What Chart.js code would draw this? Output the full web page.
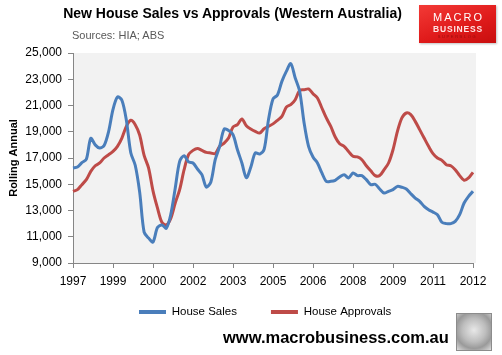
<!DOCTYPE html>
<html>
<head>
<meta charset="utf-8">
<script src="https://cdn.jsdelivr.net/npm/chart.js@4"></script>
<style>
  html, body { margin: 0; padding: 0; background: #fff; }
  #wrap { position: relative; width: 502px; height: 355px; overflow: hidden; font-family: "Liberation Sans", Arial, sans-serif; }
  #c { position: absolute; left: 0; top: 0; }
  .title { position: absolute; left: 0; top: 4px; width: 465px; text-align: center; font-weight: bold; font-size: 14px; line-height: 18px; color: #000; }
  .sub { position: absolute; left: 72px; top: 28px; font-size: 11px; line-height: 14px; color: #595959; }
  .logo { position: absolute; left: 419px; top: 5px; width: 77px; height: 38px; background: linear-gradient(160deg, #f33a36 0%, #e01b1b 55%, #c80e0e 100%); box-shadow: 1px 1px 2px rgba(0,0,0,0.25); text-align: center; color: #fff; }
  .logo .m { position: absolute; left: 0; right: 0; top: 6px; font-size: 11px; line-height: 12px; letter-spacing: 2px; padding-left: 2px; }
  .logo .b { position: absolute; left: 0; right: 0; top: 19px; font-size: 8.5px; line-height: 10px; font-weight: bold; letter-spacing: 0.8px; padding-left: 1px; color: #ffe3e3; }
  .logo .s { position: absolute; left: 0; right: 0; top: 29px; font-size: 4px; line-height: 5px; letter-spacing: 1.6px; color: #9a0c0c; }
  .foot { position: absolute; left: 223px; top: 327px; font-size: 16.5px; line-height: 20px; font-weight: bold; color: #000; white-space: nowrap; }
  .wolf { position: absolute; left: 456px; top: 313px; width: 34px; height: 36px; border: 1px solid #8c8c8c; background: radial-gradient(circle at 50% 45%, #e8e8e8 0%, #bdbdbd 45%, #9a9a9a 70%, #dcdcdc 100%); }
</style>
</head>
<body>
<div id="wrap">
  <canvas id="c" width="502" height="355"></canvas>
  <div class="title">New House Sales vs Approvals (Western Australia)</div>
  <div class="sub">Sources: HIA; ABS</div>
  <div class="logo"><div class="m">MACRO</div><div class="b">BUSINESS</div><div class="s">SUPERBLOG</div></div>
  <div class="foot">www.macrobusiness.com.au</div>
  <div class="wolf"></div>
</div>
<script>
// Categories: bi-monthly points, Sep 1997 .. Sep 2012
const months = [
 '1997-09','1997-11','1998-01','1998-03','1998-05','1998-07','1998-09','1998-11','1999-01','1999-03',
 '1999-05','1999-07','1999-09','1999-11','2000-01','2000-03','2000-05','2000-07','2000-09','2000-11',
 '2001-01','2001-03','2001-05','2001-07','2001-09','2001-11','2002-01','2002-03','2002-05','2002-07',
 '2002-09','2002-11','2003-01','2003-03','2003-05','2003-07','2003-09','2003-11','2004-01','2004-03',
 '2004-05','2004-07','2004-09','2004-11','2005-01','2005-03','2005-05','2005-07','2005-09','2005-11',
 '2006-01','2006-03','2006-05','2006-07','2006-09','2006-11','2007-01','2007-03','2007-05','2007-07',
 '2007-09','2007-11','2008-01','2008-03','2008-05','2008-07','2008-09','2008-11','2009-01','2009-03',
 '2009-05','2009-07','2009-09','2009-11','2010-01','2010-03','2010-05','2010-07','2010-09','2010-11',
 '2011-01','2011-03','2011-05','2011-07','2011-09','2011-11','2012-01','2012-03','2012-05','2012-07',
 '2012-09'
];

// Tick labels shown every 9 points (18 months)
const tickYears = ['1997','1999','2000','2002','2003','2005','2006','2008','2009','2011','2012'];

const houseSales = [
 16240,16310,16650,16900,18500,18000,17760,17950,19000,20700,
 21650,21400,19900,17400,16450,14400,11350,10900,10600,11700,
 11900,11650,12700,14700,16750,17180,16700,16620,16160,15730,
 14790,15150,16870,17890,19200,19100,18780,17630,16620,15500,
 16300,17380,17300,17650,19950,21500,21800,22840,23600,24190,
 23100,22080,19670,17890,17080,16620,15860,15220,15220,15300,
 15550,15730,15480,15860,15660,15660,15350,14970,15000,14640,
 14330,14460,14590,14840,14770,14640,14280,13950,13700,13320,
 13060,12880,12680,12100,12000,12000,12170,12680,13570,14080,
 14460
];

const houseApprovals = [
 14460,14590,14970,15350,15980,16410,16620,17000,17250,17500,
 17890,18520,19410,19870,19540,18750,17200,16250,14500,13200,
 12100,11900,12400,13570,14590,16110,17250,17580,17730,17580,
 17430,17380,17330,17890,18140,18520,19360,19540,19970,19460,
 19210,19030,18900,19230,19410,19600,19870,20170,20880,21060,
 21440,22150,22200,22260,21900,21570,20810,20050,19410,18600,
 18090,17890,17500,17130,17080,16870,16410,16020,15660,15660,
 16110,16620,17630,19030,20050,20430,20300,19790,19160,18520,
 17890,17330,17000,16820,16490,16410,16110,15660,15300,15480,
 15910
];

const seriesNames = ['House Sales', 'House Approvals'];
const seriesColors = ['#4a7ebb', '#be4b48'];

Chart.defaults.font.family = '"Liberation Sans", Arial, sans-serif';
Chart.defaults.color = '#000';

const plotBg = {
  id: 'plotBg',
  beforeDraw(chart) {
    const a = chart.chartArea, ctx = chart.ctx;
    ctx.save();
    ctx.fillStyle = '#f2f2f2';
    ctx.fillRect(a.left, a.top, a.right - a.left + 3, a.bottom - a.top);
    ctx.restore();
  }
};

const legendPlace = {
  id: 'legendPlace',
  afterLayout(chart) {
    const lg = chart.legend;
    if (!lg) return;
    const h = lg.bottom - lg.top;
    lg.left = 105;
    lg.right = 105 + 502;
    lg.top = 272.25;
    lg.bottom = 272.25 + h;
  }
};

new Chart(document.getElementById('c'), {
  type: 'line',
  data: {
    labels: months,
    datasets: [
      { label: seriesNames[0], data: houseSales, borderColor: seriesColors[0], backgroundColor: seriesColors[0],
        borderWidth: 3, pointRadius: 0, tension: 0.3, fill: false },
      { label: seriesNames[1], data: houseApprovals, borderColor: seriesColors[1], backgroundColor: seriesColors[1],
        borderWidth: 3, pointRadius: 0, tension: 0.3, fill: false }
    ]
  },
  options: {
    responsive: false,
    animation: false,
    devicePixelRatio: 1,
    layout: { padding: { left: 0, right: 29, top: 53, bottom: 6.5 } },
    plugins: {
      title: { display: false },
      tooltip: { enabled: false },
      legend: {
        display: true,
        position: 'bottom',
        align: 'start',
        labels: {
          boxWidth: 27,
          boxHeight: 4,
          padding: 34,
          font: { size: 11.5 },
          color: '#000',
          generateLabels(chart) {
            return Chart.defaults.plugins.legend.labels.generateLabels(chart).map(l => Object.assign(l, { lineWidth: 0 }));
          }
        }
      }
    },
    scales: {
      x: {
        type: 'category',
        offset: false,
        afterFit(scale) { scale.height = 30; },
        grid: { display: true, drawOnChartArea: false, drawTicks: true, tickLength: 5, color: '#868686' },
        border: { display: true, color: '#868686', width: 1 },
        ticks: {
          autoSkip: false, maxRotation: 0, minRotation: 0, padding: 6,
          font: { size: 12 }, color: '#000',
          callback(value, index) { return index % 9 === 0 ? tickYears[index / 9] : null; }
        }
      },
      y: {
        min: 9000, max: 25000,
        afterFit(scale) { scale.width = 73; },
        grid: { display: true, drawOnChartArea: false, drawTicks: true, tickLength: 5, color: '#868686' },
        border: { display: true, color: '#868686', width: 1 },
        ticks: {
          stepSize: 2000, padding: 6, font: { size: 12 }, color: '#000',
          callback(v) { return Number(v).toLocaleString('en-US'); }
        },
        title: { display: true, text: 'Rolling Annual', font: { size: 11, weight: 'bold' }, color: '#000', padding: { top: 7, bottom: 0 } }
      }
    }
  },
  plugins: [plotBg, legendPlace]
});
</script>
</body>
</html>
